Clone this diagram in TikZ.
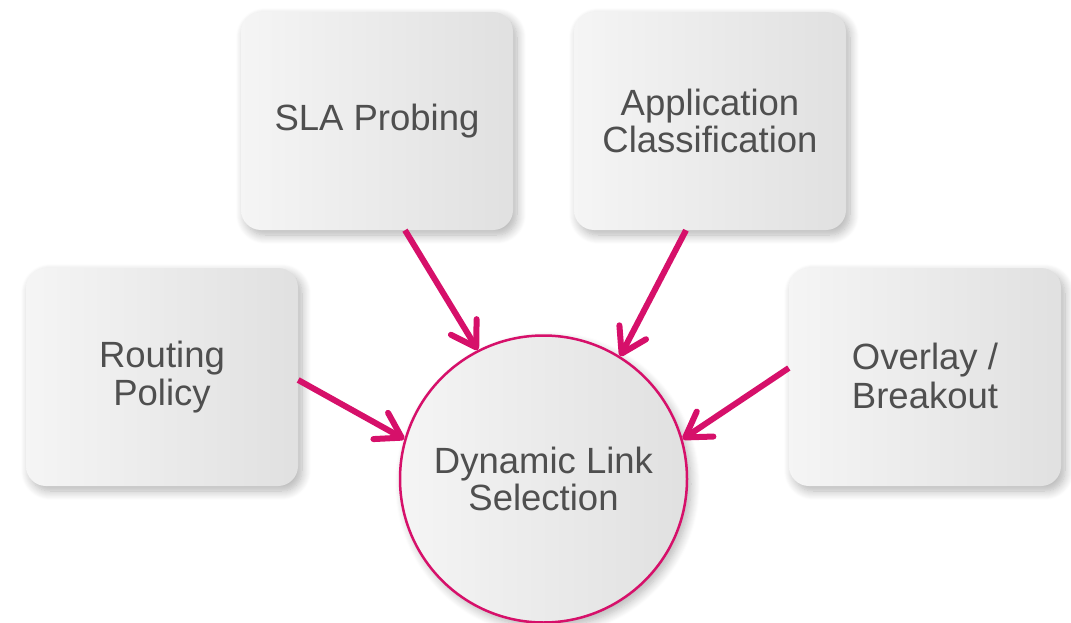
\documentclass[tikz,border=0pt]{standalone}
\usepackage{fontspec}
\setmainfont{Liberation Sans}
\usepackage{xcolor}
\definecolor{link_red}{HTML}{D6106A}
\definecolor{text_gray}{HTML}{4F4F4F}
\usetikzlibrary{arrows.meta, shadows.blur}

\tikzset{
  block/.style={rectangle, rounded corners=20pt, minimum width=272pt, minimum height=218pt,
    inner sep=0pt, left color=white!96!black, right color=white!88!black,
    blur shadow={shadow xshift=4pt, shadow yshift=-5pt, shadow blur steps=10,
      shadow opacity=30, shadow blur radius=9pt},
    text=text_gray, align=center, font=\fontsize{36.5}{37.5}\selectfont},
  hub/.style={circle, draw=link_red, line width=2.5pt, minimum size=287pt, inner sep=0pt,
    left color=white!96!black, right color=white!88!black,
    blur shadow={shadow xshift=4pt, shadow yshift=-5pt, shadow blur steps=10,
      shadow opacity=30, shadow blur radius=9pt},
    text=text_gray, align=center, font=\fontsize{36.5}{37.5}\selectfont},
  link/.style={line width=6pt, link_red, line join=round,
    -{Straight Barb[length=24pt, width=30pt, round]}}
}

\begin{document}
\begin{tikzpicture}[x=1pt, y=-1pt]
      \useasboundingbox (0,0) rectangle (1071,623);

      \node[block] (sla) at (377,121) {SLA Probing};
      \node[block] (app) at (710,121) {Application\\Classification};
      \node[block] (rp) at (162,377) {Routing\\Policy};
      \node[block] (ovl) at (925,377) {\raisebox{3pt}{\shortstack{Overlay /\\[2pt]Breakout}}};

      \node[hub] (dls) at (543.5,479) {Dynamic Link\\Selection};

      \draw[link] ([xshift=28pt]sla.south) -- (dls.117);
      \draw[link] ([xshift=-24pt]app.south) -- (dls.58);
      \draw[link] ([yshift=-3pt]rp.east) -- (dls.164);
      \draw[link] ([yshift=9pt]ovl.west) -- (dls.16);

    \end{tikzpicture}
\end{document}
